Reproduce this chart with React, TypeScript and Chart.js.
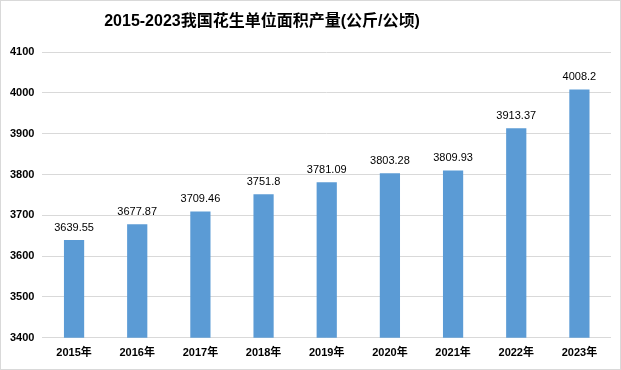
import { useEffect, useRef } from "react";
import { Chart, registerables } from "chart.js";

Chart.register(...registerables);

const categories = ["2015年", "2016年", "2017年", "2018年", "2019年", "2020年", "2021年", "2022年", "2023年"];
const values = [3639.55, 3677.87, 3709.46, 3751.8, 3781.09, 3803.28, 3809.93, 3913.37, 4008.2];
const yTicks = [3400, 3500, 3600, 3700, 3800, 3900, 4000, 4100];
const titleText = "2015-2023我国花生单位面积产量(公斤/公顷)";

const FONT = "'Liberation Sans', 'Noto Sans CJK SC', sans-serif";

const labelPlugin = {
  id: "valueLabels",
  afterDatasetsDraw(chart: any) {
    const { ctx } = chart;
    const meta = chart.getDatasetMeta(0);
    ctx.save();
    ctx.font = `11px ${FONT}`;
    ctx.fillStyle = "#000";
    ctx.textAlign = "center";
    ctx.textBaseline = "bottom";
    meta.data.forEach((bar: any, i: number) => {
      ctx.fillText(String(values[i]), bar.x, bar.y - 7);
    });
    ctx.restore();
  },
};

const borderPlugin = {
  id: "outerBorder",
  beforeDraw(chart: any) {
    const { ctx, width, height } = chart;
    ctx.save();
    ctx.fillStyle = "#fff";
    ctx.fillRect(0, 0, width, height);
    ctx.strokeStyle = "#d9d9d9";
    ctx.lineWidth = 1;
    ctx.strokeRect(0.5, 0.5, width - 1, height - 1);
    ctx.restore();
  },
  afterDraw(chart: any) {
    const { ctx } = chart;
    ctx.save();
    ctx.font = `bold 16px ${FONT}`;
    ctx.fillStyle = "#000";
    ctx.textAlign = "center";
    ctx.textBaseline = "middle";
    ctx.fillText(titleText, 262, 22);
    ctx.restore();
  },
};

export default function App() {
  const ref = useRef<HTMLCanvasElement>(null);
  useEffect(() => {
    if (!ref.current) return;
    const chart = new Chart(ref.current, {
      type: "bar",
      data: {
        labels: categories,
        datasets: [
          {
            data: values,
            backgroundColor: "#5b9bd5",
            barPercentage: 0.32,
            categoryPercentage: 1,
          },
        ],
      },
      options: {
        responsive: false,
        animation: false,
        layout: { padding: { left: 2, right: 10, top: 52, bottom: 9 } },
        plugins: {
          legend: { display: false },
          tooltip: { enabled: false },
          title: { display: false },
        },
        scales: {
          x: {
            grid: { display: false },
            border: { display: false },
            ticks: {
              color: "#000",
              font: { family: FONT, size: 11, weight: "bold" },
              padding: 1,
              maxRotation: 0,
            },
          },
          y: {
            min: yTicks[0],
            max: yTicks[yTicks.length - 1],
            afterBuildTicks: (axis: any) => {
              axis.ticks = yTicks.map((v) => ({ value: v }));
            },
            ticks: {
              color: "#000",
              font: { family: FONT, size: 11, weight: "bold" },
              padding: 8,
              callback: (v: any) => String(v),
            },
            grid: { color: "#d9d9d9", drawTicks: false },
            border: { display: false },
          },
        },
      },
      plugins: [borderPlugin, labelPlugin],
    });
    return () => chart.destroy();
  }, []);
  return (
    <div style={{ position: "fixed", left: 0, top: 0, width: 621, height: 370 }}>
      <canvas ref={ref} width={621} height={370} style={{ width: 621, height: 370 }} />
    </div>
  );
}
